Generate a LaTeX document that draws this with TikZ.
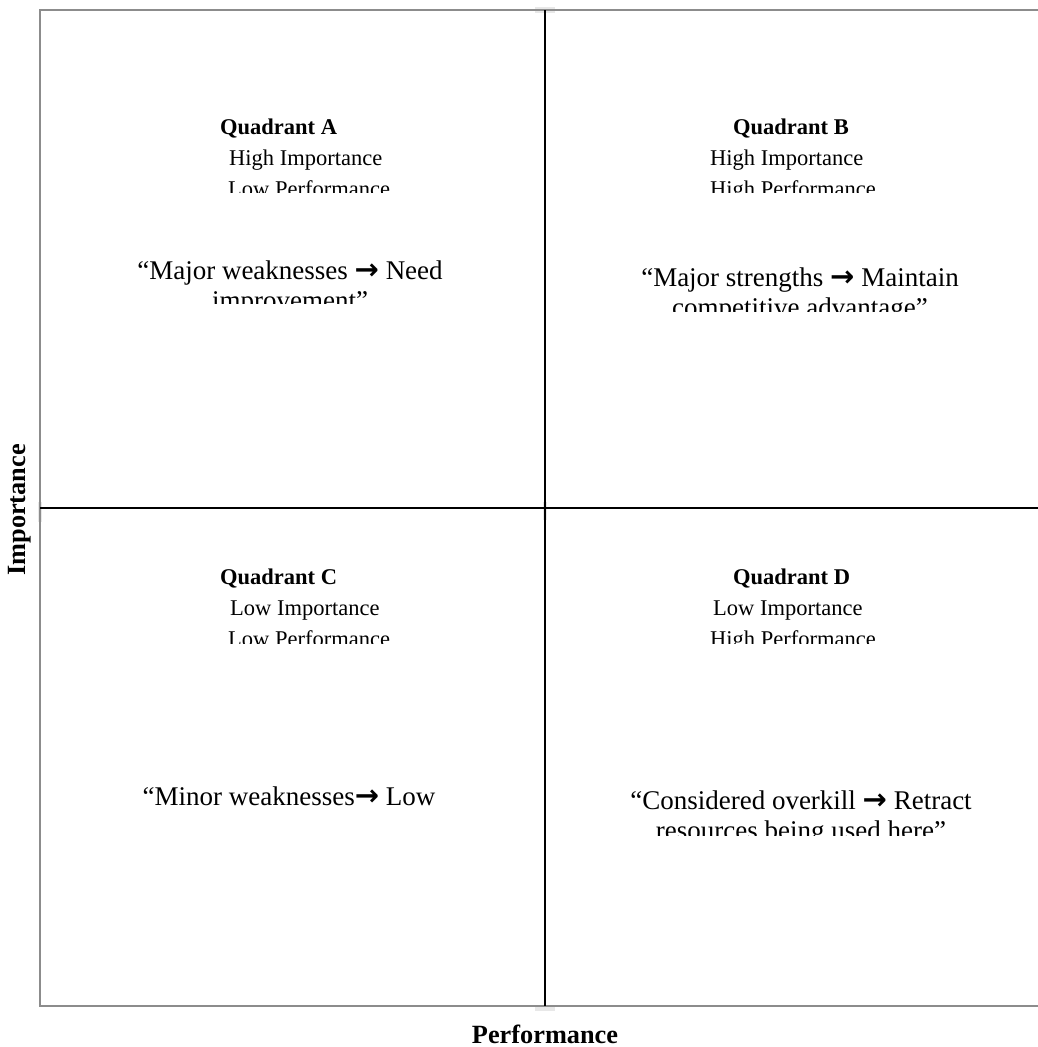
\documentclass[tikz,border=0pt]{standalone}
\usepackage{fontspec}
\setmainfont{Liberation Serif}
\newfontfamily\arrowfont{DejaVu Sans}
\newcommand{\rarr}{{\arrowfont\bfseries\fontsize{29}{30}\selectfont →}}
\begin{document}
\begin{tikzpicture}[x=1pt,y=-1pt,
  frame/.style={draw=black!45, line width=1.4pt},
  divider/.style={draw=black, line width=1.2pt},
  seam/.style={fill=black!9, draw=none},
  head/.style={anchor=base west, inner sep=0pt, font=\fontsize{22.5}{27}\selectfont},
  qtitle/.style={head, font=\fontsize{22.5}{27}\selectfont\bfseries},
  quote/.style={anchor=base, inner sep=0pt, font=\fontsize{27}{30}\selectfont},
  axislabel/.style={inner sep=0pt, font=\fontsize{26.3}{30}\selectfont\bfseries}]
\useasboundingbox (0,0) rectangle (1038,1047);

% corner points of the grid
\coordinate (tl) at (40,10);
\coordinate (tr) at (1038,10);
\coordinate (bl) at (40,1006);
\coordinate (br) at (1038,1006);
\coordinate (tm) at (545,10);
\coordinate (bm) at (545,1006);
\coordinate (ml) at (40,508);
\coordinate (mr) at (1038,508);

% faint seams where the cells meet
\fill[seam] (535,7) rectangle (555,13);
\fill[seam] (543,502) rectangle (547,520);
\fill[seam] (38,502) rectangle (42,522);
\fill[seam] (535,1006) rectangle (555,1011);

% outer frame (open on the right)
\draw[frame] (tr) -- (tl) -- (bl) -- (br);
% quadrant dividers
\draw[divider] (tm) -- (bm);
\draw[divider] (ml) -- (mr);

% Quadrant A
\begin{scope}
  \clip (60,100) rectangle (530,192);
  \node[qtitle] (qa) at (220,134) {Quadrant A};
  \node[head] (qa1) at (229,165) {High Importance};
  \node[head] (qa2) at (228,196) {Low Performance};
\end{scope}
\begin{scope}
  \clip (60,240) rectangle (530,303);
  \node[quote] (wa1) at (290,279) {“Major weaknesses \rarr{} Need};
  \node[quote] (wa2) at (290,309) {improvement”};
\end{scope}

% Quadrant B
\begin{scope}
  \clip (560,100) rectangle (1030,192);
  \node[qtitle] (qb) at (733,134) {Quadrant B};
  \node[head] (qb1) at (710,165) {High Importance};
  \node[head] (qb2) at (710,196) {High Performance};
\end{scope}
\begin{scope}
  \clip (560,240) rectangle (1030,311);
  \node[quote] (sb1) at (800,286) {“Major strengths \rarr{} Maintain};
  \node[quote] (sb2) at (800,316) {competitive advantage”};
\end{scope}

% Quadrant C
\begin{scope}
  \clip (60,550) rectangle (530,643);
  \node[qtitle] (qc) at (220,584) {Quadrant C};
  \node[head] (qc1) at (230,615) {Low Importance};
  \node[head] (qc2) at (228,646) {Low Performance};
\end{scope}
\begin{scope}
  \clip (60,770) rectangle (530,820);
  \node[quote] (wc1) at (289,805) {“Minor weaknesses\rarr{} Low};
\end{scope}

% Quadrant D
\begin{scope}
  \clip (560,550) rectangle (1030,643);
  \node[qtitle] (qd) at (733,584) {Quadrant D};
  \node[head] (qd1) at (713,615) {Low Importance};
  \node[head] (qd2) at (710,646) {High Performance};
\end{scope}
\begin{scope}
  \clip (560,770) rectangle (1030,835);
  \node[quote] (od1) at (801,809) {“Considered overkill \rarr{} Retract};
  \node[quote] (od2) at (801,839) {resources being used here”};
\end{scope}

% axis labels
\node[axislabel, rotate=90] (imp) at (20,510) {Importance};
\node[axislabel, anchor=base] (perf) at (545,1043) {Performance};
\end{tikzpicture}
\end{document}
